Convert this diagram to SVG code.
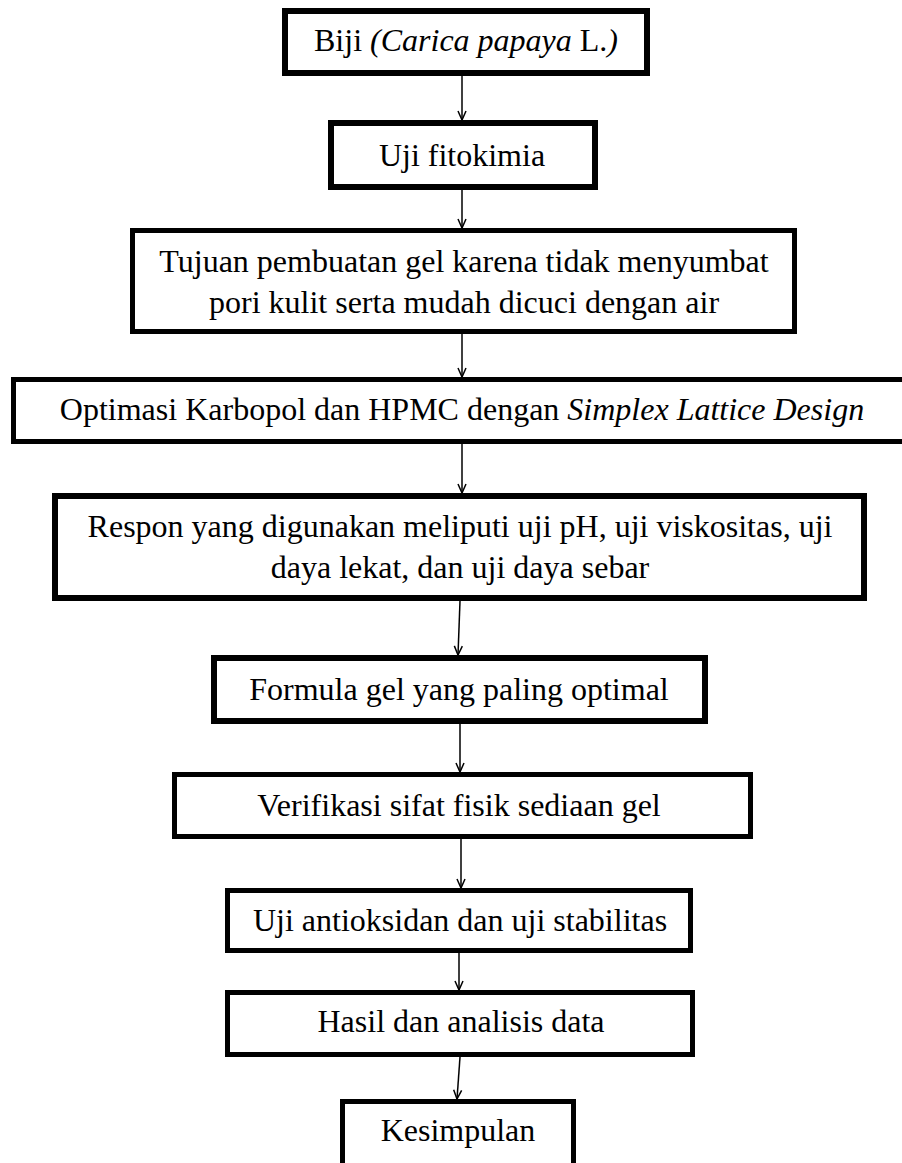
<svg xmlns="http://www.w3.org/2000/svg" width="902" height="1163" viewBox="0 0 902 1163">
<style>
  .box { fill: #ffffff; stroke: #000000; stroke-width: 5; }
  .thick { stroke-width: 6; }
  .t { font-family: "Liberation Serif", "Times New Roman", serif; font-size: 32px; fill: #000000; text-anchor: middle; }
  .i { font-style: italic; }
  .c { stroke: #000000; stroke-width: 1.5; fill: none; marker-end: url(#arr); }
</style>
<defs>
  <marker id="arr" viewBox="0 0 10 10" refX="10" refY="5" markerWidth="10" markerHeight="10" markerUnits="userSpaceOnUse" orient="auto">
    <path d="M1,1 L10,5 L1,9" fill="none" stroke="#000000" stroke-width="1.5"/>
  </marker>
</defs>
<rect x="0" y="0" width="902" height="1163" fill="#ffffff"/>

<g id="n1">
  <rect class="box thick" x="285" y="11" width="362" height="62"/>
  <text class="t" x="466" y="51">Biji <tspan class="i">(Carica papaya</tspan> L.<tspan class="i">)</tspan></text>
</g>
<g id="n2">
  <rect class="box thick" x="331" y="123" width="264" height="64"/>
  <text class="t" x="462" y="166">Uji fitokimia</text>
</g>
<g id="n3">
  <rect class="box" x="132.5" y="230.5" width="662" height="101"/>
  <text class="t" x="464" y="272">Tujuan pembuatan gel karena tidak menyumbat</text>
  <text class="t" x="464" y="313">pori kulit serta mudah dicuci dengan air</text>
</g>
<g id="n4">
  <rect class="box" x="13.5" y="379.5" width="900" height="62"/>
  <text class="t" x="462" y="420">Optimasi Karbopol dan HPMC dengan <tspan class="i">Simplex Lattice Design</tspan></text>
</g>
<g id="n5">
  <rect class="box thick" x="55" y="496" width="809" height="102"/>
  <text class="t" x="460" y="537">Respon yang digunakan meliputi uji pH, uji viskositas, uji</text>
  <text class="t" x="460" y="578">daya lekat, dan uji daya sebar</text>
</g>
<g id="n6">
  <rect class="box thick" x="214" y="658" width="491" height="63"/>
  <text class="t" x="459" y="700">Formula gel yang paling optimal</text>
</g>
<g id="n7">
  <rect class="box" x="174.5" y="774.5" width="576" height="62"/>
  <text class="t" x="459" y="816">Verifikasi sifat fisik sediaan gel</text>
</g>
<g id="n8">
  <rect class="box" x="227.5" y="890.5" width="463" height="60"/>
  <text class="t" x="460" y="931">Uji antioksidan dan uji stabilitas</text>
</g>
<g id="n9">
  <rect class="box" x="227.5" y="992.5" width="465" height="62"/>
  <text class="t" x="461" y="1032">Hasil dan analisis data</text>
</g>
<g id="n10">
  <rect class="box" x="342.5" y="1101.5" width="231" height="66"/>
  <text class="t" x="458" y="1141">Kesimpulan</text>
</g>

<g id="connectors">
  <line class="c" x1="462" y1="76" x2="462" y2="120"/>
  <line class="c" x1="462" y1="190" x2="462" y2="228"/>
  <line class="c" x1="462" y1="334" x2="462" y2="377"/>
  <line class="c" x1="462" y1="444" x2="462" y2="493"/>
  <line class="c" x1="460" y1="601" x2="458" y2="655"/>
  <line class="c" x1="460" y1="724" x2="460" y2="772"/>
  <line class="c" x1="461" y1="839" x2="461" y2="888"/>
  <line class="c" x1="459" y1="953" x2="459" y2="990"/>
  <line class="c" x1="460" y1="1057" x2="457" y2="1099"/>
</g>
</svg>
